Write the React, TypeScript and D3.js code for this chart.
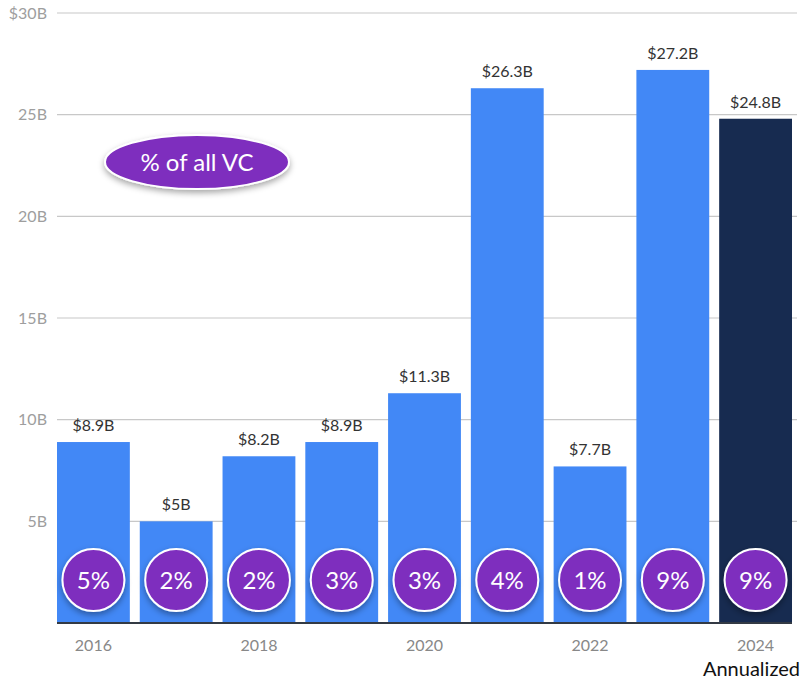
import * as d3 from "d3";

const years = ["2016", "2017", "2018", "2019", "2020", "2021", "2022", "2023", "2024"];
const funding = [8.9, 5, 8.2, 8.9, 11.3, 26.3, 7.7, 27.2, 24.8];
const valueLabels = ["$8.9B", "$5B", "$8.2B", "$8.9B", "$11.3B", "$26.3B", "$7.7B", "$27.2B", "$24.8B"];
const shareLabels = ["5%", "2%", "2%", "3%", "3%", "4%", "1%", "9%", "9%"];
const yTicks = [5, 10, 15, 20, 25, 30];
const xTickYears = ["2016", "2018", "2020", "2022", "2024"];

const width = 801;
const height = 679;
const margins = { top: 13, right: 9, bottom: 56, left: 57 };
const font = "Lato, 'Open Sans', sans-serif";

export default function App() {
  const x = d3
    .scaleBand<string>()
    .domain(years)
    .range([margins.left, width - margins.right])
    .paddingInner(0.12)
    .paddingOuter(0);

  const y = d3
    .scaleLinear()
    .domain([0, 30])
    .range([height - margins.bottom, margins.top]);

  const circleY = y(0) - 43;

  return (
    <svg
      width={width}
      height={height}
      style={{ position: "absolute", left: 0, top: 0 }}
      fontFamily={font}
    >
      <defs>
        <filter id="shadow" x="-30%" y="-30%" width="160%" height="170%">
          <feDropShadow dx="0" dy="3" stdDeviation="3" floodColor="#000" floodOpacity="0.35" />
        </filter>
      </defs>

      {/* grid */}
      {yTicks.map((t) => (
        <g key={t}>
          <line
            x1={margins.left}
            x2={797}
            y1={y(t)}
            y2={y(t)}
            stroke="#c8c8c8"
            strokeWidth={1.2}
          />
          <text
            x={47}
            y={y(t)}
            dy="0.35em"
            textAnchor="end"
            fontSize={16}
            fill="#9e9e9e"
          >
            {t === 30 ? "$30B" : `${t}B`}
          </text>
        </g>
      ))}

      {/* bars */}
      {years.map((yr, i) => (
        <rect
          key={yr}
          x={x(yr)}
          y={y(funding[i])}
          width={x.bandwidth()}
          height={y(0) - y(funding[i])}
          fill={yr === "2024" ? "#172b50" : "#4288f6"}
        />
      ))}

      {/* value labels */}
      {years.map((yr, i) => (
        <text
          key={yr}
          x={(x(yr) || 0) + x.bandwidth() / 2}
          y={y(funding[i]) - 11}
          textAnchor="middle"
          fontSize={16}
          fill="#333"
        >
          {valueLabels[i]}
        </text>
      ))}

      {/* baseline */}
      <line
        x1={margins.left}
        x2={width - margins.right}
        y1={y(0)}
        y2={y(0)}
        stroke="#333a44"
        strokeWidth={2}
      />

      {/* share bubbles */}
      {years.map((yr, i) => {
        const cx = (x(yr) || 0) + x.bandwidth() / 2;
        return (
          <g key={yr}>
            <circle
              cx={cx}
              cy={circleY}
              r={31}
              fill="#7e2dbe"
              stroke="#fff"
              strokeWidth={2}
              filter="url(#shadow)"
            />
            <text
              x={cx}
              y={circleY}
              dy="0.36em"
              textAnchor="middle"
              fontSize={24}
              fill="#fff"
            >
              {shareLabels[i]}
            </text>
          </g>
        );
      })}

      {/* x axis labels */}
      {xTickYears.map((yr) => (
        <text
          key={yr}
          x={(x(yr) || 0) + x.bandwidth() / 2}
          y={651}
          textAnchor="middle"
          fontSize={16}
          fill="#888"
        >
          {yr}
        </text>
      ))}
      <text x={800} y={676} textAnchor="end" fontSize={20} fill="#111">
        Annualized
      </text>

      {/* legend bubble */}
      <g filter="url(#shadow)">
        <ellipse cx={197} cy={162} rx={92} ry={27} fill="#7e2dbe" stroke="#fff" strokeWidth={2} />
      </g>
      <text x={197} y={162} dy="0.36em" textAnchor="middle" fontSize={24} fill="#fff">
        % of all VC
      </text>
    </svg>
  );
}
